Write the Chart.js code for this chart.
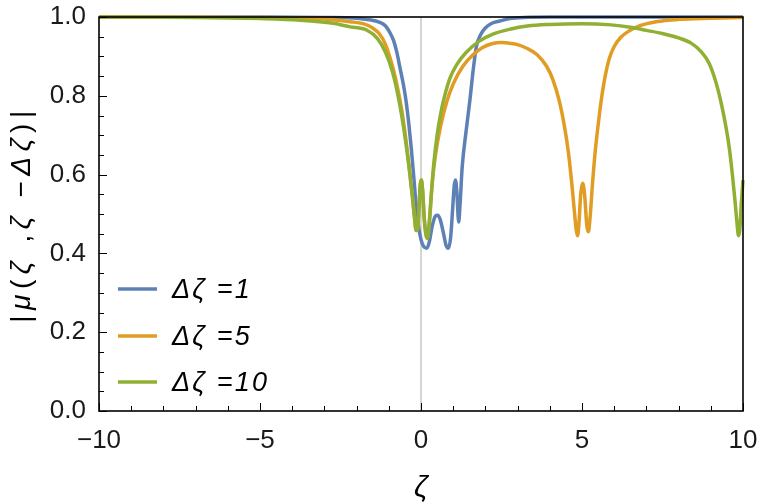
<!DOCTYPE html>
<html>
<head>
<meta charset="utf-8">
<script src="https://cdn.jsdelivr.net/npm/chart.js@4.4.1/dist/chart.umd.min.js"></script>
<style>
  html, body { margin: 0; padding: 0; background: #fff; }
  canvas { display: block; }
</style>
</head>
<body>
<canvas id="c" width="763" height="504"></canvas>
<script>
// ---- data ----
const seriesLabels = ["Δζ =1", "Δζ =5", "Δζ =10"];
const seriesColors = ["#5E81B5", "#E19C24", "#8FB032"];

const blueX = [-10, -5, -3, -2, -1.6, -1.3, -1.1, -0.95, -0.85, -0.75, -0.65, -0.55, -0.47, -0.38, -0.3, -0.22, -0.16, -0.08, 0.0, 0.08, 0.18, 0.26, 0.35, 0.45, 0.52, 0.6, 0.7, 0.78, 0.85, 0.92, 0.98, 1.03, 1.07, 1.11, 1.17, 1.21, 1.28, 1.4, 1.52, 1.62, 1.72, 1.85, 2.0, 2.2, 2.45, 2.76, 3.2, 4, 10];
const blueY = [1, 1, 0.999, 0.997, 0.993, 0.987, 0.977, 0.958, 0.94, 0.91, 0.87, 0.83, 0.79, 0.73, 0.665, 0.59, 0.53, 0.47, 0.435, 0.418, 0.413, 0.43, 0.47, 0.495, 0.497, 0.485, 0.45, 0.42, 0.413, 0.44, 0.51, 0.57, 0.586, 0.56, 0.48, 0.52, 0.62, 0.71, 0.79, 0.865, 0.925, 0.955, 0.972, 0.984, 0.99, 0.996, 0.999, 1, 1];

const orangeX = [-10, -5, -3, -2.2, -1.8, -1.5, -1.3, -1.1, -0.92, -0.78, -0.6, -0.47, -0.36, -0.27, -0.2, -0.15, -0.11, -0.06, -0.02, 0.01, 0.05, 0.1, 0.15, 0.2, 0.27, 0.35, 0.45, 0.6, 0.8, 1.0, 1.3, 1.6, 1.9, 2.2, 2.5, 2.8, 3.0, 3.3, 3.6, 3.9, 4.1, 4.3, 4.45, 4.58, 4.68, 4.76, 4.82, 4.86, 4.9, 4.96, 5.02, 5.08, 5.15, 5.2, 5.25, 5.32, 5.4, 5.5, 5.6, 5.72, 5.85, 6.0, 6.2, 6.45, 6.8, 7.3, 8.0, 9.0, 10];
const orangeY = [1, 0.999, 0.995, 0.988, 0.983, 0.972, 0.958, 0.93, 0.885, 0.84, 0.765, 0.69, 0.615, 0.548, 0.49, 0.458, 0.46, 0.52, 0.575, 0.586, 0.56, 0.49, 0.45, 0.438, 0.49, 0.58, 0.65, 0.72, 0.785, 0.83, 0.875, 0.903, 0.922, 0.932, 0.935, 0.933, 0.93, 0.92, 0.905, 0.875, 0.84, 0.785, 0.725, 0.655, 0.58, 0.51, 0.46, 0.445, 0.47, 0.55, 0.578, 0.55, 0.47, 0.455, 0.49, 0.57, 0.65, 0.725, 0.79, 0.85, 0.895, 0.925, 0.948, 0.964, 0.978, 0.988, 0.994, 0.997, 0.999];

const greenX = [-10, -7, -5, -3.76, -2.73, -2.2, -1.69, -1.35, -1.1, -0.9, -0.75, -0.6, -0.47, -0.36, -0.27, -0.2, -0.15, -0.11, -0.06, -0.02, 0.01, 0.05, 0.1, 0.15, 0.2, 0.25, 0.32, 0.4, 0.5, 0.6, 0.72, 0.9, 1.1, 1.4, 1.8, 2.25, 2.76, 3.3, 4.0, 5.0, 5.9, 6.5, 7.0, 7.5, 8.0, 8.4, 8.7, 8.95, 9.15, 9.3, 9.45, 9.57, 9.67, 9.75, 9.81, 9.86, 9.9, 9.95, 10];
const greenY = [1, 0.999, 0.996, 0.992, 0.984, 0.975, 0.967, 0.945, 0.91, 0.865, 0.815, 0.75, 0.68, 0.61, 0.545, 0.49, 0.458, 0.46, 0.52, 0.575, 0.586, 0.56, 0.49, 0.45, 0.438, 0.47, 0.55, 0.63, 0.7, 0.75, 0.795, 0.845, 0.878, 0.91, 0.938, 0.957, 0.969, 0.977, 0.981, 0.983, 0.98, 0.974, 0.966, 0.958, 0.947, 0.933, 0.912, 0.882, 0.837, 0.79, 0.73, 0.67, 0.6, 0.535, 0.48, 0.445, 0.46, 0.53, 0.586];

const xMajorTicks = [-10, -5, 0, 5, 10];
const xMinorTicks = [-9, -8, -7, -6, -4, -3, -2, -1, 1, 2, 3, 4, 6, 7, 8, 9];
const yMajorTicks = [0, 0.2, 0.4, 0.6, 0.8, 1.0];
const yMinorTicks = [0.05, 0.1, 0.15, 0.25, 0.3, 0.35, 0.45, 0.5, 0.55, 0.65, 0.7, 0.75, 0.85, 0.9, 0.95];

const xTitle = "ζ";
const yTitleParts = [["|", "normal"], ["μ", "italic"], ["(", "normal"], ["ζ", "italic"], [" ,", "normal"], ["ζ", "italic"], [" −", "normal"], ["Δ", "italic"], ["ζ", "italic"], [")", "normal"], ["|", "normal"]];

// ---- build ----
function pts(xs, ys) { return xs.map((x, i) => ({ x: x, y: ys[i] })); }
const seriesX = [blueX, orangeX, greenX];
const seriesY = [blueY, orangeY, greenY];

const FONT = "'Liberation Sans', Arial, sans-serif";

const datasets = seriesLabels.map((lab, i) => ({
  label: lab,
  data: pts(seriesX[i], seriesY[i]),
  borderColor: seriesColors[i],
  backgroundColor: seriesColors[i],
  borderWidth: 3.5,
  pointRadius: 0,
  showLine: true,
  fill: false,
  cubicInterpolationMode: 'monotone',
  order: 2 - i,
  clip: 2
}));

function drawSpaced(ctx, text, x, y, spacing) {
  let cx = x;
  for (const ch of text) { ctx.fillText(ch, cx, y); cx += ctx.measureText(ch).width + spacing; }
  return cx;
}
function spacedWidth(ctx, text, spacing) {
  let w = 0;
  for (const ch of text) w += ctx.measureText(ch).width + spacing;
  return w;
}

const decorPlugin = {
  id: 'decor',
  beforeDatasetsDraw(chart) {
    const { ctx, chartArea: a, scales: { x } } = chart;
    ctx.save();
    ctx.strokeStyle = '#c8c8c8';
    ctx.lineWidth = 1.5;
    const px = x.getPixelForValue(0);
    ctx.beginPath(); ctx.moveTo(px, a.top); ctx.lineTo(px, a.bottom); ctx.stroke();
    ctx.restore();
  },
  afterDatasetsDraw(chart) {
    const { ctx, chartArea: a, scales: { x, y } } = chart;
    ctx.save();
    ctx.strokeStyle = '#000';
    ctx.lineWidth = 1;
    ctx.beginPath();
    xMajorTicks.forEach(v => { const p = Math.round(x.getPixelForValue(v)) + 0.5; ctx.moveTo(p, a.bottom); ctx.lineTo(p, a.bottom - 8); });
    xMinorTicks.forEach(v => { const p = Math.round(x.getPixelForValue(v)) + 0.5; ctx.moveTo(p, a.bottom); ctx.lineTo(p, a.bottom - 5); });
    yMajorTicks.forEach(v => { const p = Math.round(y.getPixelForValue(v)) + 0.5; ctx.moveTo(a.left, p); ctx.lineTo(a.left + 8, p); });
    yMinorTicks.forEach(v => { const p = Math.round(y.getPixelForValue(v)) + 0.5; ctx.moveTo(a.left, p); ctx.lineTo(a.left + 5, p); });
    ctx.stroke();
    ctx.lineWidth = 1.6;
    ctx.strokeRect(a.left, a.top, a.right - a.left, a.bottom - a.top);

    // legend (inside plot, lower left)
    const offs = [122, 75, 29];
    chart.data.datasets.forEach((ds, i) => {
      const yy = a.bottom - offs[i];
      ctx.strokeStyle = ds.borderColor;
      ctx.lineWidth = 3.5;
      ctx.beginPath(); ctx.moveTo(a.left + 19, yy); ctx.lineTo(a.left + 58, yy); ctx.stroke();
      ctx.fillStyle = '#000';
      ctx.font = "italic 27px " + FONT;
      ctx.textBaseline = 'middle';
      ctx.textAlign = 'left';
      drawSpaced(ctx, ds.label, a.left + 73, yy + 1, 2.2);
    });

    // y title (mixed styles)
    ctx.translate(22, (a.top + a.bottom) / 2);
    ctx.rotate(-Math.PI / 2);
    ctx.fillStyle = '#000';
    ctx.textBaseline = 'middle';
    ctx.textAlign = 'left';
    const sp = 5.5;
    let total = 0;
    yTitleParts.forEach(([t, st]) => { ctx.font = st + " 28px " + FONT; total += spacedWidth(ctx, t, sp); });
    let cx = -total / 2;
    yTitleParts.forEach(([t, st]) => { ctx.font = st + " 28px " + FONT; cx = drawSpaced(ctx, t, cx, 0, sp); });
    ctx.restore();
  }
};

new Chart(document.getElementById('c').getContext('2d'), {
  type: 'scatter',
  data: { datasets: datasets },
  options: {
    responsive: false,
    animation: false,
    events: [],
    layout: { padding: { top: 17, right: 20, left: 0, bottom: 0 } },
    plugins: { legend: { display: false }, tooltip: { enabled: false } },
    scales: {
      x: {
        type: 'linear', min: -10, max: 10,
        afterBuildTicks: s => { s.ticks = xMajorTicks.map(v => ({ value: v })); },
        ticks: {
          color: '#1a1a1a', padding: 14, maxRotation: 0,
          font: { family: FONT, size: 26 },
          callback: v => (v < 0 ? '−' + Math.abs(v) : String(v))
        },
        grid: { display: false, drawTicks: false },
        border: { display: false },
        title: { display: true, text: xTitle, color: '#000', font: { family: FONT, size: 30, style: 'italic' }, padding: { top: 0, bottom: -3 } },
        afterFit: s => { s.height = 93; s.paddingLeft = 0; s.paddingRight = 0; }
      },
      y: {
        type: 'linear', min: 0, max: 1,
        afterBuildTicks: s => { s.ticks = yMajorTicks.map(v => ({ value: v })); },
        ticks: {
          color: '#1a1a1a', padding: 13,
          font: { family: FONT, size: 26 },
          callback: v => Number(v).toFixed(1)
        },
        grid: { display: false, drawTicks: false },
        border: { display: false },
        afterFit: s => { s.width = 99; s.paddingTop = 0; s.paddingBottom = 0; }
      }
    }
  },
  plugins: [decorPlugin]
});
</script>
</body>
</html>
